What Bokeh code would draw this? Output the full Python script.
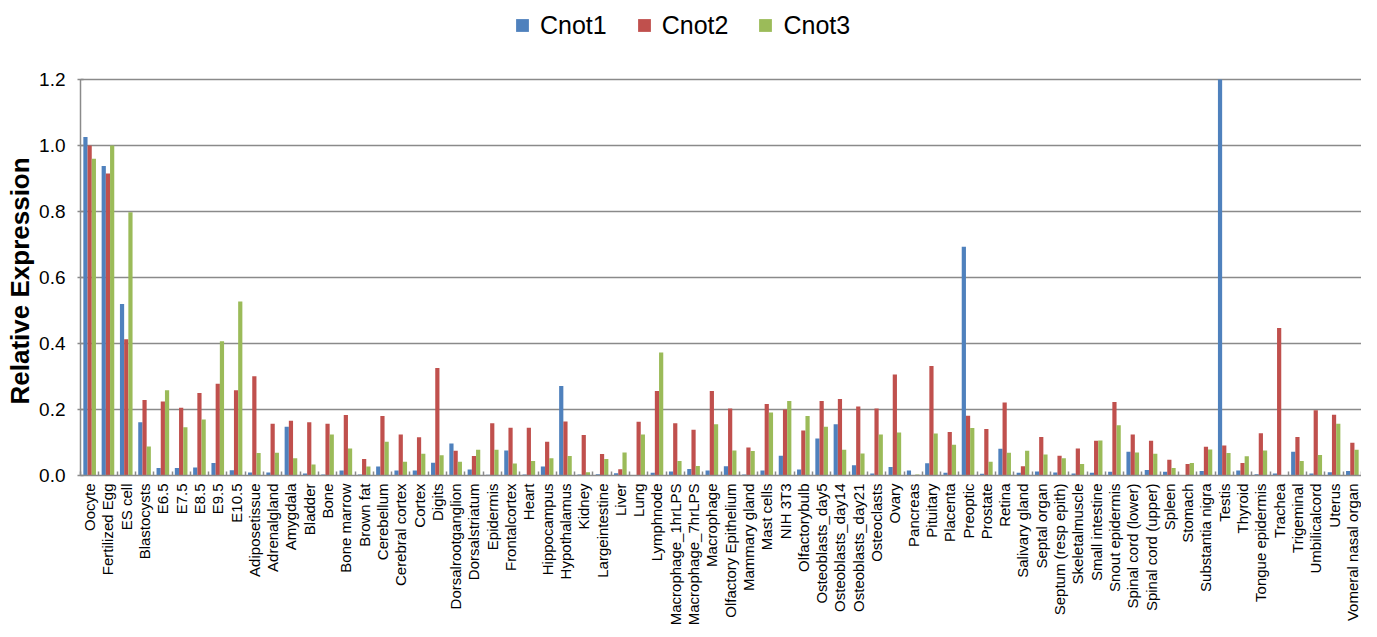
import numpy as np
from bokeh.plotting import figure
from bokeh.models import (ColumnDataSource, FixedTicker, Range1d, Legend, LegendItem,
                          PrintfTickFormatter, Title)
from bokeh.transform import dodge
from bokeh.embed import file_html
from bokeh.resources import INLINE

categories = ["Oocyte", "Fertilized Egg", "ES cell", "Blastocysts", "E6.5", "E7.5", "E8.5", "E9.5",
              "E10.5", "Adiposetissue", "Adrenalgland", "Amygdala", "Bladder", "Bone", "Bone marrow",
              "Brown fat", "Cerebellum", "Cerebral cortex", "Cortex", "Digits", "Dorsalrootganglion",
              "Dorsalstriatum", "Epidermis", "Frontalcortex", "Heart", "Hippocampus", "Hypothalamus",
              "Kidney", "Largeintestine", "Liver", "Lung", "Lymphnode", "Macrophage_1hrLPS",
              "Macrophage_7hrLPS", "Macrophage", "Olfactory Epithelium", "Mammary gland", "Mast cells",
              "NIH 3T3", "Olfactorybulb", "Osteoblasts_day5", "Osteoblasts_day14", "Osteoblasts_day21",
              "Osteoclasts", "Ovary", "Pancreas", "Pituitary", "Placenta", "Preoptic", "Prostate",
              "Retina", "Salivary gland", "Septal organ", "Septum (resp epith)", "Skeletalmuscle",
              "Small intestine", "Snout epidermis", "Spinal cord (lower)", "Spinal cord (upper)",
              "Spleen", "Stomach", "Substantia nigra", "Testis", "Thyroid", "Tongue epidermis",
              "Trachea", "Trigeminal", "Umbilicalcord", "Uterus", "Vomeral nasal organ"]

cnot1 = [1.026, 0.938, 0.52, 0.161, 0.023, 0.023, 0.024, 0.038, 0.016, 0.009,
         0.009, 0.148, 0.006, 0.003, 0.015, 0.003, 0.027, 0.015, 0.015, 0.039,
         0.097, 0.018, 0.002, 0.076, 0.003, 0.027, 0.271, 0.003, 0.004, 0.007,
         0.001, 0.008, 0.012, 0.02, 0.015, 0.028, 0.003, 0.015, 0.06, 0.018,
         0.112, 0.155, 0.031, 0.006, 0.026, 0.015, 0.037, 0.008, 0.693, 0.005,
         0.081, 0.008, 0.012, 0.009, 0.006, 0.008, 0.011, 0.072, 0.017, 0.011,
         0.001, 0.014, 1.2, 0.015, 0.004, 0.006, 0.072, 0.006, 0.01, 0.014]

cnot2 = [1.0, 0.915, 0.413, 0.229, 0.224, 0.205, 0.25, 0.278, 0.258, 0.301,
         0.157, 0.166, 0.161, 0.157, 0.183, 0.05, 0.18, 0.124, 0.116, 0.326,
         0.075, 0.059, 0.158, 0.145, 0.145, 0.102, 0.164, 0.123, 0.065, 0.019,
         0.163, 0.256, 0.158, 0.139, 0.256, 0.203, 0.085, 0.217, 0.2, 0.136,
         0.226, 0.232, 0.209, 0.203, 0.306, 0.0, 0.332, 0.132, 0.181, 0.141,
         0.221, 0.028, 0.117, 0.06, 0.082, 0.105, 0.223, 0.124, 0.105, 0.048,
         0.035, 0.087, 0.091, 0.038, 0.128, 0.447, 0.117, 0.198, 0.184, 0.099]

cnot3 = [0.96, 1.0, 0.798, 0.088, 0.258, 0.146, 0.17, 0.407, 0.527, 0.068,
         0.069, 0.052, 0.033, 0.124, 0.082, 0.027, 0.102, 0.042, 0.066, 0.061,
         0.042, 0.078, 0.078, 0.036, 0.044, 0.052, 0.059, 0.01, 0.05, 0.07,
         0.124, 0.373, 0.044, 0.029, 0.155, 0.076, 0.074, 0.191, 0.226, 0.18,
         0.148, 0.078, 0.067, 0.124, 0.13, 0.003, 0.127, 0.093, 0.144, 0.042,
         0.069, 0.075, 0.064, 0.052, 0.035, 0.106, 0.152, 0.07, 0.066, 0.023,
         0.038, 0.079, 0.068, 0.058, 0.076, 0.0, 0.044, 0.062, 0.157, 0.078]

series_names = ["Cnot1", "Cnot2", "Cnot3"]
series_colors = ["#4F81BD", "#C0504D", "#9BBB59"]
y_ticks = [0.0, 0.2, 0.4, 0.6, 0.8, 1.0, 1.2]
y_title = "Relative Expression"

n = len(categories)
pos = np.arange(n) + 0.5
src = ColumnDataSource(dict(pos=pos, cat=categories, Cnot1=cnot1, Cnot2=cnot2, Cnot3=cnot3))

FONT = "Liberation Sans"
GRAY = "#8a8a8a"

# frame spans the whole top area so the legend can sit inside it; the value
# axis itself stops at 1.2 (axis bounds), as in the reference
p = figure(width=1361, height=629, output_backend="svg", toolbar_location=None,
           x_range=Range1d(0, n), y_range=Range1d(0, 1.4394),
           min_border_left=76, min_border_right=0, min_border_top=0, min_border_bottom=154)
p.outline_line_color = None
p.background_fill_color = "white"
p.border_fill_color = "white"

bw = 0.23
legend_items = []
for name, col, off in zip(series_names, series_colors, [-bw, 0.0, bw]):
    p.quad(left=dodge("pos", off - bw / 2, range=p.x_range),
           right=dodge("pos", off + bw / 2, range=p.x_range),
           top=name, bottom=0, source=src, fill_color=col, line_color=None)
    # zero-size square markers: they only provide the square legend swatch
    sw = p.scatter(x=dodge("pos", off, range=p.x_range), y=name, source=src,
                   marker="square", size=0, fill_color=col, line_color=None)
    legend_items.append(LegendItem(label=name, renderers=[sw]))

# x axis
p.xaxis.ticker = FixedTicker(ticks=list(pos), minor_ticks=list(range(n + 1)))
p.xaxis.major_label_overrides = {float(x): c for x, c in zip(pos, categories)}
p.xaxis.major_label_orientation = np.pi / 2
p.xaxis.major_label_text_font = FONT
p.xaxis.major_label_text_font_size = "15px"
p.xaxis.major_label_text_color = "black"
p.xaxis.major_label_standoff = 8
p.xaxis.major_tick_line_color = None
p.xaxis.major_tick_out = 0
p.xaxis.major_tick_in = 0
p.xaxis.minor_tick_line_color = GRAY
p.xaxis.minor_tick_line_width = 1.5
p.xaxis.minor_tick_in = 4
p.xaxis.minor_tick_out = 0
p.xaxis.axis_line_color = GRAY
p.xaxis.axis_line_width = 1.5
p.xgrid.grid_line_color = None

# y axis
p.yaxis.ticker = FixedTicker(ticks=y_ticks)
p.yaxis.bounds = (0, 1.2)
p.yaxis.formatter = PrintfTickFormatter(format="%.1f")
p.yaxis.major_label_text_font = FONT
p.yaxis.major_label_text_font_size = "19px"
p.yaxis.major_label_text_color = "black"
p.yaxis.major_label_standoff = 12
p.yaxis.major_tick_line_color = GRAY
p.yaxis.major_tick_line_width = 1.5
p.yaxis.major_tick_in = 3
p.yaxis.major_tick_out = 3
p.yaxis.minor_tick_line_color = None
p.yaxis.axis_line_color = GRAY
p.yaxis.axis_line_width = 1.5
p.ygrid.ticker = FixedTicker(ticks=y_ticks)
p.ygrid.grid_line_color = GRAY
p.ygrid.grid_line_width = 1.5

# y-axis title, centred on the 0-1.2 part of the axis
p.add_layout(Title(text=y_title, align="left", offset=71, standoff=4,
                   text_font=FONT, text_font_size="26px", text_font_style="bold",
                   text_color="black"), "left")

legend = Legend(items=legend_items, orientation="horizontal", location=(426, 434),
                glyph_width=32, glyph_height=32, label_standoff=2, spacing=21,
                padding=0, margin=0, border_line_color=None, background_fill_alpha=0,
                label_text_font=FONT, label_text_font_size="25px", label_text_color="black")
p.add_layout(legend, "center")

open("out.html", "w").write(file_html(p, INLINE))
